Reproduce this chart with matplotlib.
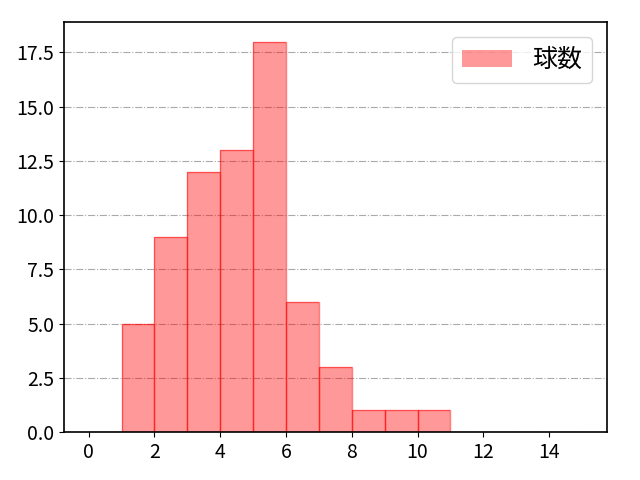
import numpy as np
import matplotlib
matplotlib.use("Agg")
import matplotlib.pyplot as plt

plt.rcParams['font.family'] = ['Noto Sans CJK JP', 'DejaVu Sans']

# 球数の分布 (ビン幅 1)
bin_edges = list(range(0, 16))
counts = [0, 5, 9, 12, 13, 18, 6, 3, 1, 1, 1, 0, 0, 0, 0]
label = '球数'

fig = plt.figure(figsize=(6.4, 4.8), dpi=100)
ax = fig.add_axes([0.1, 0.1, 0.848, 0.854])

ax.hist(bin_edges[:-1], bins=bin_edges, weights=counts,
        color='red', alpha=0.4, label=label)
ax.hist(bin_edges[:-1], bins=bin_edges, weights=counts,
        histtype='bar', facecolor='none', edgecolor='red', alpha=0.5, linewidth=1)

ax.set_xticks(range(0, 15, 2))
ax.grid(axis='y', linestyle='-.', color='#aaaaaa', linewidth=0.8)
ax.set_axisbelow(True)
ax.tick_params(labelsize=14)
for s in ax.spines.values():
    s.set_linewidth(1.2)
ax.legend(fontsize=18, loc='upper right', borderaxespad=0.6)

fig.savefig('out.png')
